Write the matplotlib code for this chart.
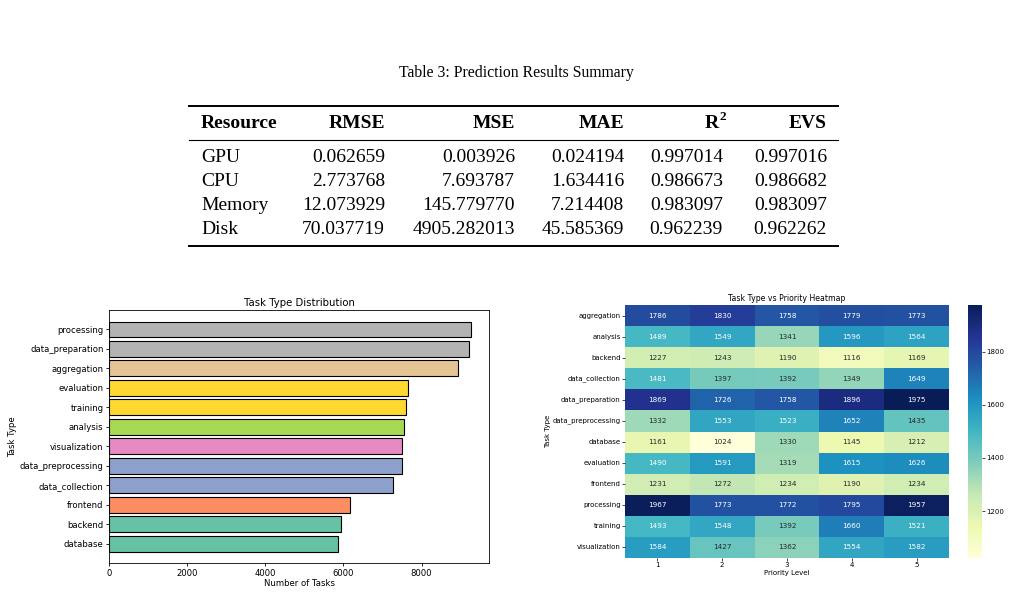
import matplotlib
matplotlib.use('Agg')
import matplotlib.pyplot as plt
import numpy as np
import pandas as pd
import seaborn as sns

# table data
t_cols = ['Resource', 'RMSE', 'MSE', 'MAE', 'R', 'EVS']
t_res = ['GPU', 'CPU', 'Memory', 'Disk']
t_rmse = ['0.062659', '2.773768', '12.073929', '70.037719']
t_mse = ['0.003926', '7.693787', '145.779770', '4905.282013']
t_mae = ['0.024194', '1.634416', '7.214408', '45.585369']
t_r2 = ['0.997014', '0.986673', '0.983097', '0.962239']
t_evs = ['0.997016', '0.986682', '0.983097', '0.962262']

# heatmap data (rows = task type, cols = priority 1..5)
tasks = ['aggregation', 'analysis', 'backend', 'data_collection', 'data_preparation',
         'data_preprocessing', 'database', 'evaluation', 'frontend', 'processing',
         'training', 'visualization']
prio = [1, 2, 3, 4, 5]
heat = [[1786, 1830, 1758, 1779, 1773],
        [1489, 1549, 1341, 1596, 1564],
        [1227, 1243, 1190, 1116, 1169],
        [1481, 1397, 1392, 1349, 1649],
        [1869, 1726, 1758, 1896, 1975],
        [1332, 1553, 1523, 1652, 1435],
        [1161, 1024, 1330, 1145, 1212],
        [1490, 1591, 1319, 1615, 1626],
        [1231, 1272, 1234, 1190, 1234],
        [1967, 1773, 1772, 1795, 1957],
        [1493, 1548, 1392, 1660, 1521],
        [1584, 1427, 1362, 1554, 1582]]

# bar chart data
bar_tasks = ['processing', 'data_preparation', 'aggregation', 'evaluation', 'training',
             'analysis', 'visualization', 'data_preprocessing', 'data_collection',
             'frontend', 'backend', 'database']
bar_counts = [9264, 9224, 8926, 7641, 7614, 7539, 7509, 7495, 7268, 6161, 5945, 5872]
bar_colors = ['#b3b3b3', '#b3b3b3', '#e5c494', '#ffd92f', '#ffd92f', '#a6d854',
              '#e78ac3', '#8da0cb', '#8da0cb', '#fc8d62', '#66c2a5', '#66c2a5']

W, H = 1010, 595
fig = plt.figure(figsize=(W / 100, H / 100), dpi=100)

# ---- table, drawn in pixel coords
tx = fig.add_axes([0, 0, 1, 1])
tx.set_xlim(0, W); tx.set_ylim(H, 0); tx.axis('off')
serif = 'Liberation Serif'
tx.text(516, 73, 'Table 3: Prediction Results Summary', ha='center', va='center',
        family=serif, fontsize=11.3)
tx.plot([189, 838], [106, 106], color='black', lw=1.4)
tx.plot([189, 838], [140, 140], color='black', lw=0.8)
tx.plot([189, 838], [246, 246], color='black', lw=1.4)
col_x = [201, 385, 515, 624, 723, 827]
hdr_x = [201, 385, 515, 624, 719, 827]
col_ha = ['left', 'right', 'right', 'right', 'right', 'right']
for c, x, ha in zip(t_cols, hdr_x, col_ha):
    tx.text(x, 123, c, ha=ha, va='center', family=serif, fontsize=14, weight='bold')
# superscript of R^2
tx.text(719.5, 117, '2', ha='left', va='center', family=serif, fontsize=9.5, weight='bold')
rows = list(zip(t_res, t_rmse, t_mse, t_mae, t_r2, t_evs))
for i, r in enumerate(rows):
    y = 157 + i * 24
    for v, x, ha in zip(r, col_x, col_ha):
        tx.text(x, y, v, ha=ha, va='center', family=serif, fontsize=14)

# ---- bar chart
ax = fig.add_axes([109 / W, 1 - 563 / H, 380 / W, 253 / H])
ypos = np.arange(len(bar_tasks))
ax.barh(ypos, bar_counts, height=0.8, color=bar_colors, edgecolor='black', linewidth=0.8)
ax.set_yticks(ypos)
ax.set_yticklabels(bar_tasks)
ax.invert_yaxis()
ax.set_title('Task Type Distribution', fontsize=7.3, pad=3)
ax.set_xlabel('Number of Tasks', fontsize=6.1, labelpad=1)
ax.set_ylabel('Task Type', fontsize=6.1, labelpad=2)
ax.tick_params(labelsize=6.1, length=2.5, width=0.6, pad=1.5)
for s in ax.spines.values():
    s.set_linewidth(0.6)

# ---- heatmap
hx = fig.add_axes([625 / W, 1 - 558 / H, 324 / W, 253 / H])
cx = fig.add_axes([968 / W, 1 - 558 / H, 14 / W, 253 / H])
df = pd.DataFrame(heat, index=tasks, columns=prio)
sns.heatmap(df, ax=hx, cbar_ax=cx, cmap='YlGnBu', annot=True, fmt='d',
            annot_kws={'size': 5.2})
hx.set_title('Task Type vs Priority Heatmap', fontsize=5.6, pad=3)
hx.set_xlabel('Priority Level', fontsize=5, labelpad=1)
hx.set_ylabel('Task Type', fontsize=5, labelpad=1)
hx.tick_params(labelsize=5, length=2, width=0.5, pad=1)
hx.set_yticklabels(tasks, rotation=0)
cx.tick_params(labelsize=5, length=2, width=0.5, pad=1)

fig.savefig('out.png', dpi=100)
